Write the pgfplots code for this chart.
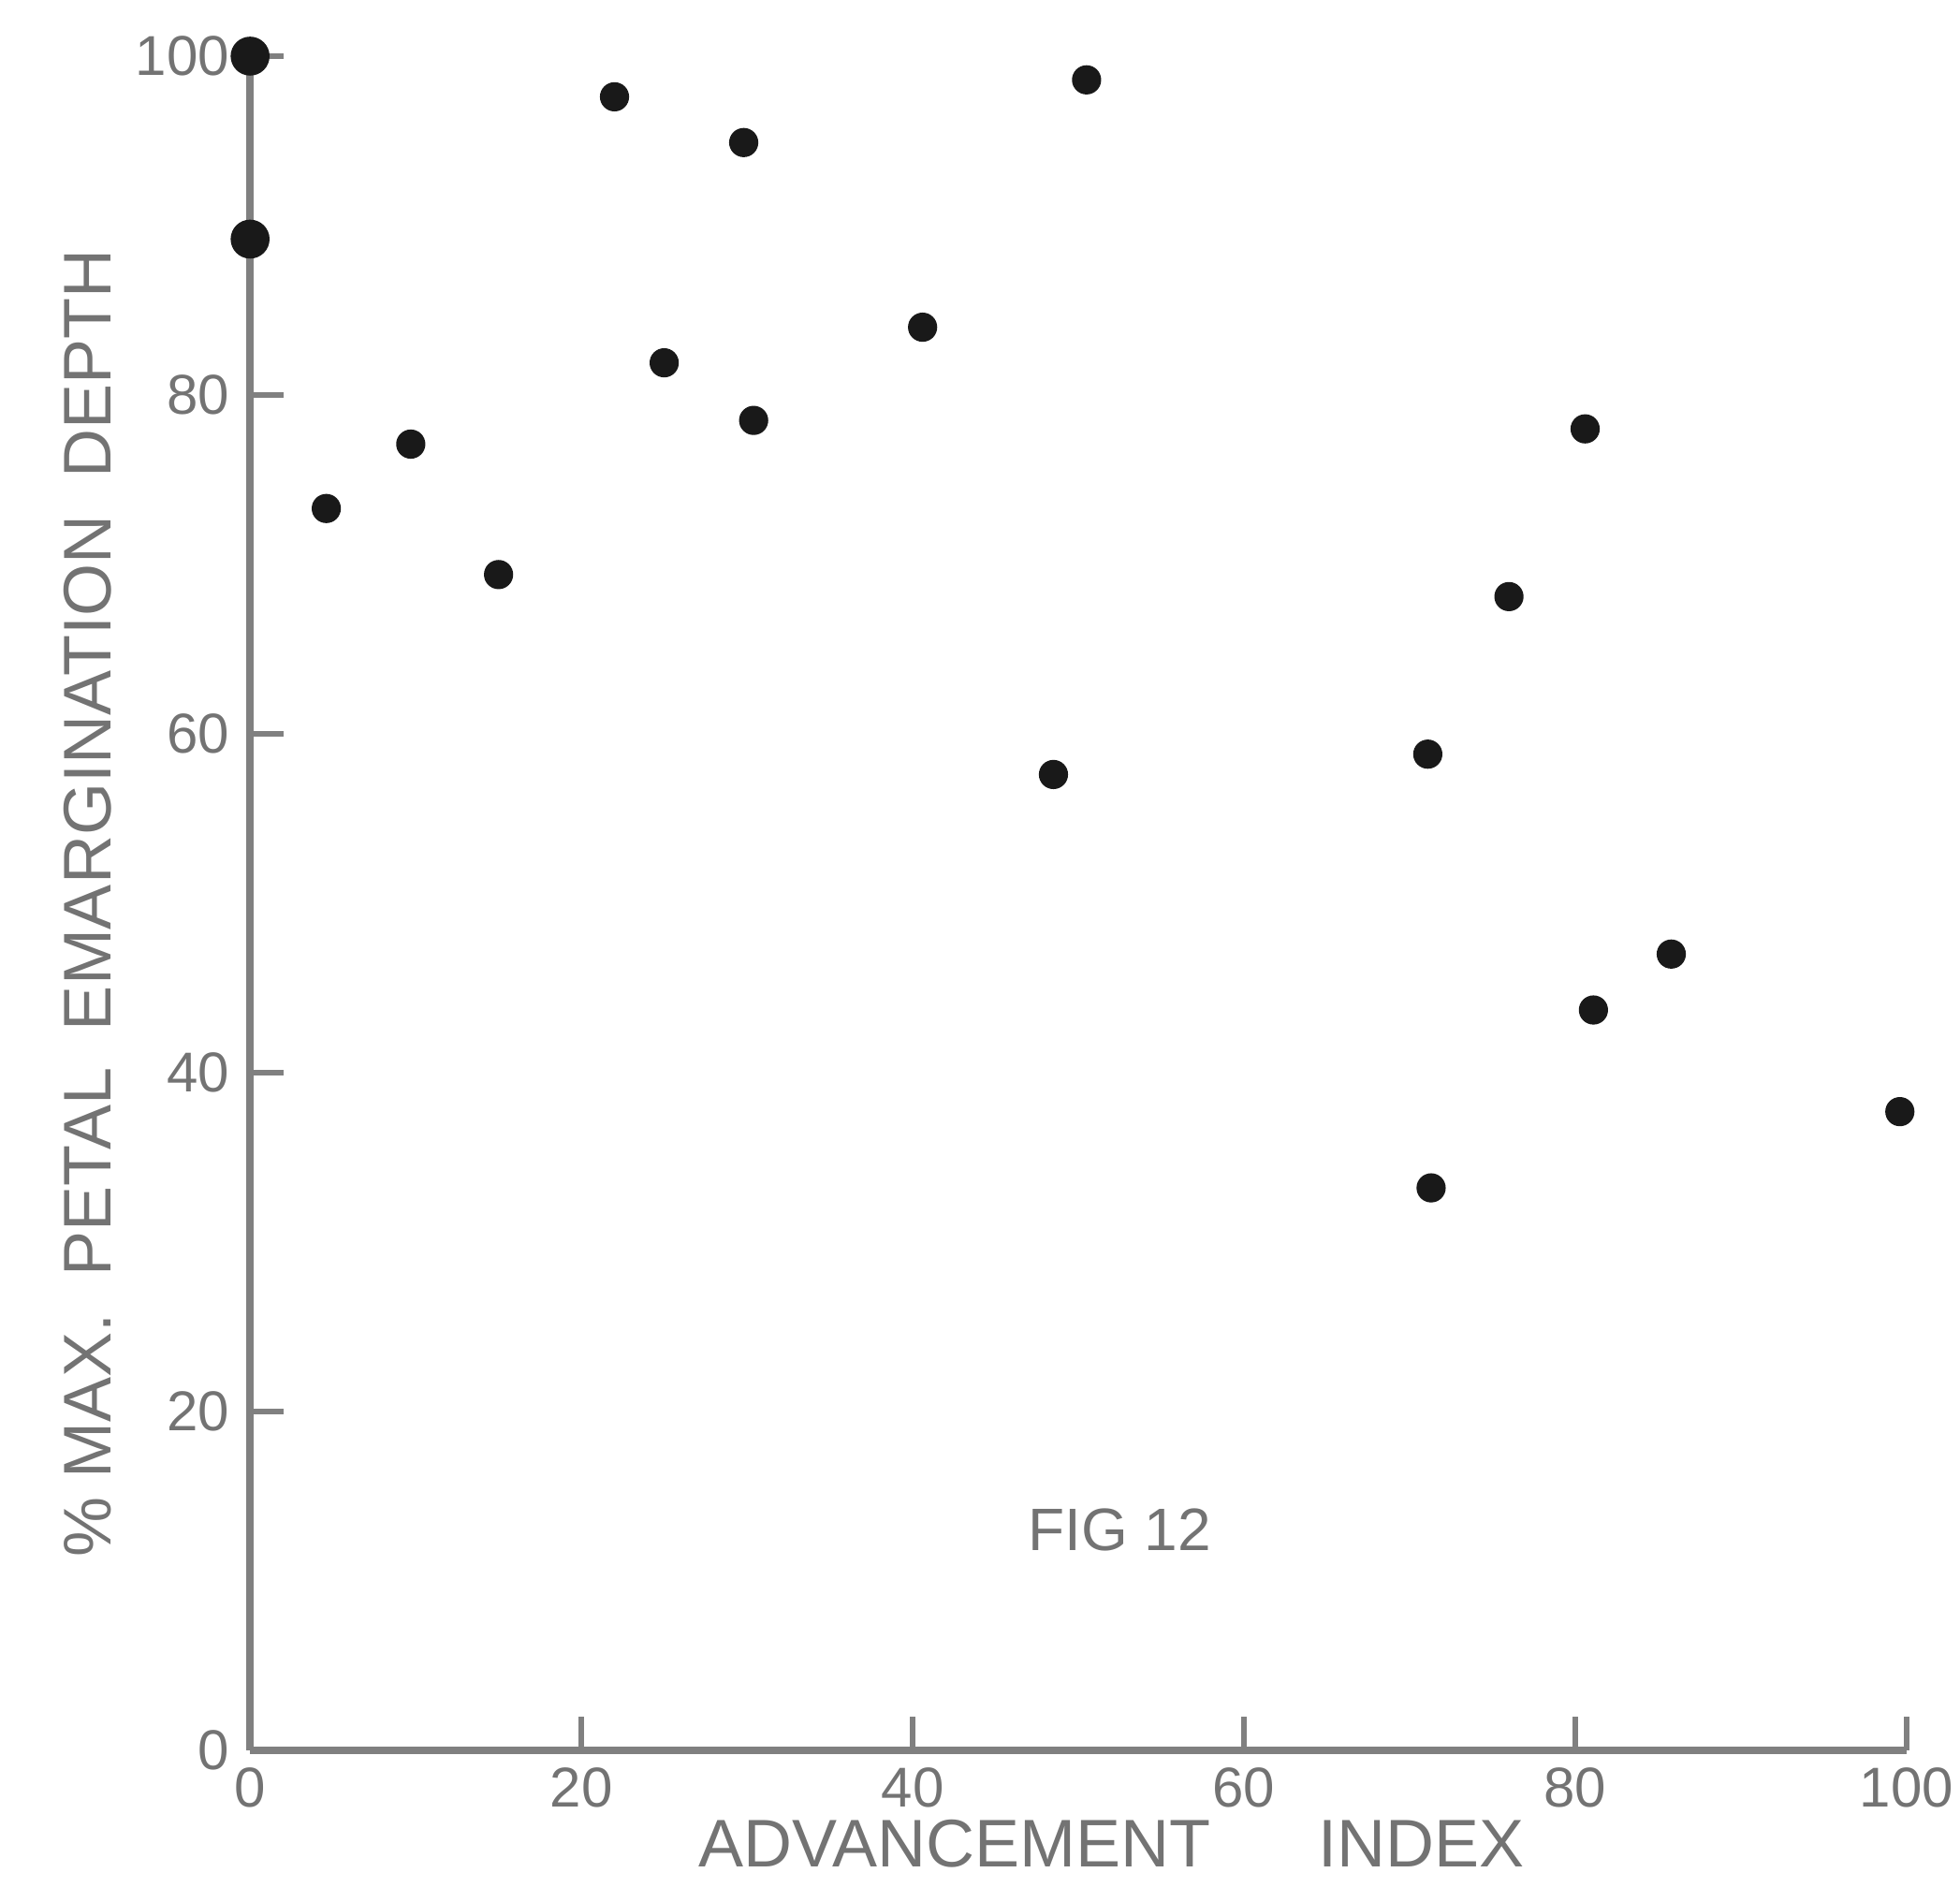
\documentclass[border=0pt]{standalone}
\usepackage{fontspec}
\setmainfont{Liberation Sans}
\usepackage{pgfplots}
\pgfplotsset{compat=1.18}
\definecolor{axgray}{RGB}{128,128,128}
\definecolor{txtgray}{RGB}{115,115,115}
\definecolor{dotcol}{RGB}{25,25,25}
\begin{document}
\begin{tikzpicture}
\begin{axis}[
  scale only axis,
  width=442.4pt, height=452.5pt,
  xmin=0, xmax=100, ymin=0, ymax=100,
  axis x line*=bottom, axis y line*=left,
  xtick pos=left, ytick pos=left,
  axis line style={-, draw=axgray, line width=2pt},
  xtick={0,20,40,60,80,100}, ytick={0,20,40,60,80,100},
  tick align=inside, major tick length=9pt,
  tick style={draw=axgray, line width=1.5pt},
  /pgf/number format/assume math mode=true,
  ticklabel style={font=\fontsize{15}{15}\selectfont, text=txtgray},
  xticklabel style={yshift=-1pt},
  yticklabel style={xshift=-2pt},
  xlabel={ADVANCEMENT\hspace{1.6em}INDEX},
  ylabel={\%\ MAX.\ \ PETAL\ \ EMARGINATION\ \ DEPTH},
  label style={font=\fontsize{18}{18}\selectfont, text=txtgray},
  xlabel style={at={(axis description cs:0.52,0)}, anchor=center, yshift=-25pt},
  ylabel style={at={(axis description cs:-0.098,0.5)}, anchor=center},
  clip=false,
]
\addplot[only marks, mark=*, mark size=5pt, mark options={fill=dotcol, draw=dotcol}] coordinates {
  (0,100) (0,89.2)
};
\addplot[only marks, mark=*, mark size=3.7pt, mark options={fill=dotcol, draw=dotcol}] coordinates {
  (4.6,73.3) (9.7,77.1) (15,69.4) (22,97.6) (25,81.9) (29.8,94.9) (30.4,78.5)
  (40.6,84) (48.5,57.6) (50.5,98.6) (71.1,58.8) (71.3,33.2) (76,68.1)
  (80.6,78) (81.1,43.7) (85.8,47) (99.6,37.7)
};
\node[font=\fontsize{16}{16}\selectfont, text=txtgray] at (axis cs:52.5,13) {FIG 12};
\end{axis}
\pgfresetboundingbox
\path[use as bounding box] (current axis.south west) ++(-66.8pt,-40.25pt) rectangle ++(523.5pt,507.75pt);
\end{tikzpicture}
\end{document}
